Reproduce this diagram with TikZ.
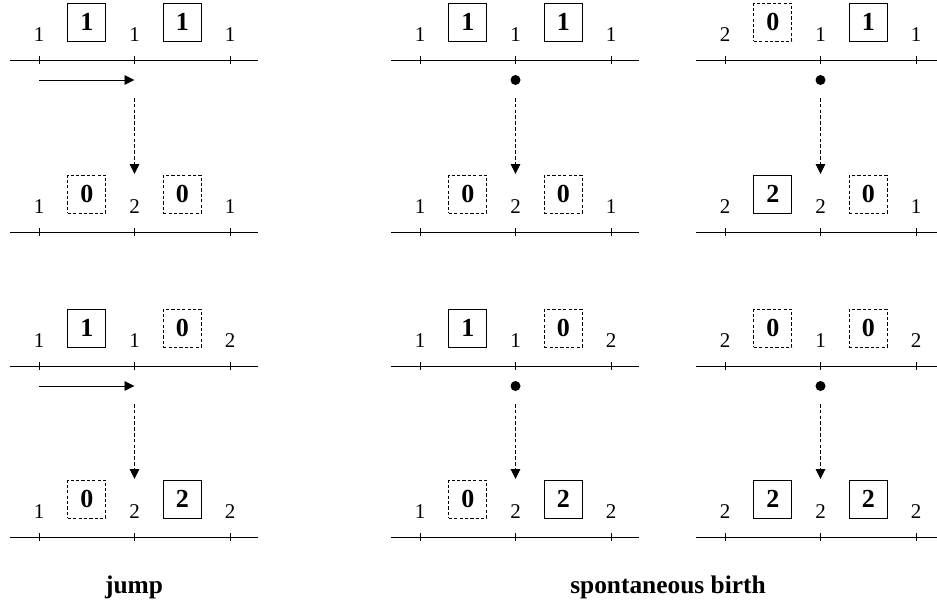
\documentclass[tikz,border=0pt]{standalone}
\usepackage{fontspec}
\setmainfont{Liberation Serif}
\usetikzlibrary{arrows.meta}

\tikzset{
  axis/.style={line width=0.45pt},
  count/.style={font=\fontsize{10.5}{12}\selectfont, inner sep=0pt},
  site/.style={draw, line width=0.45pt, minimum size=19pt, inner sep=0pt,
    font=\fontsize{13}{15}\selectfont\bfseries},
  box0/.style={site, dash pattern=on 1.6pt off 1.1pt},
  box1/.style={site},
  box2/.style={site},
  hop/.style={line width=0.45pt, -{Triangle[length=5pt,width=4.8pt]}},
  update/.style={hop, dash pattern=on 1.8pt off 1.1pt},
  birth/.style={circle, fill, inner sep=0pt, minimum size=5pt},
  caption/.style={font=\fontsize{12.7}{15}\selectfont\bfseries}
}

% one row of the lattice: name, axis y, count, box, count, box, count
\newcommand{\siterow}[7]{%
  \draw[axis] (-29,#2) -- (219,#2);
  \foreach \tx/\lab/\k in {0/#3/a,95.5/#5/b,191/#7/c}{
    \draw[axis] (\tx,#2-4) -- (\tx,#2+4);
    \node[count] (#1-\k) at (\tx,#2-25) {\lab};
  }
  \node[box#4] (#1-l) at (47.75,#2-38) {#4};
  \node[box#6] (#1-r) at (143.25,#2-38) {#6};
}

\begin{document}
\begin{tikzpicture}[x=0.5pt, y=-0.5pt]
  \useasboundingbox (0,0) rectangle (937,607);

  % jump
  \begin{scope}[shift={(39,0)}]
    \siterow{ja}{60}{1}{1}{1}{1}{1}
    \siterow{jb}{232}{1}{0}{2}{0}{1}
    \coordinate (ja-go) at (0,80);
    \coordinate (ja-to) at (95.5,80);
    \draw[hop] (ja-go) -- (ja-to);
    \coordinate (ja-down) at (95.5,98);
    \coordinate (jb-up) at (95.5,174);
    \draw[update] (ja-down) -- (jb-up);

    \siterow{jc}{366}{1}{1}{1}{0}{2}
    \siterow{jd}{537}{1}{0}{2}{2}{2}
    \coordinate (jc-go) at (0,386);
    \coordinate (jc-to) at (95.5,386);
    \draw[hop] (jc-go) -- (jc-to);
    \coordinate (jc-down) at (95.5,404);
    \coordinate (jd-up) at (95.5,479);
    \draw[update] (jc-down) -- (jd-up);
  \end{scope}

  % spontaneous birth, left column
  \begin{scope}[shift={(420,0)}]
    \siterow{sa}{60}{1}{1}{1}{1}{1}
    \siterow{sb}{232}{1}{0}{2}{0}{1}
    \node[birth] (sa-dot) at (95.5,80) {};
    \coordinate (sa-down) at (95.5,98);
    \coordinate (sb-up) at (95.5,174);
    \draw[update] (sa-down) -- (sb-up);

    \siterow{sc}{366}{1}{1}{1}{0}{2}
    \siterow{sd}{537}{1}{0}{2}{2}{2}
    \node[birth] (sc-dot) at (95.5,386) {};
    \coordinate (sc-down) at (95.5,404);
    \coordinate (sd-up) at (95.5,479);
    \draw[update] (sc-down) -- (sd-up);
  \end{scope}

  % spontaneous birth, right column
  \begin{scope}[shift={(725,0)}]
    \siterow{ta}{60}{2}{0}{1}{1}{1}
    \siterow{tb}{232}{2}{2}{2}{0}{1}
    \node[birth] (ta-dot) at (95.5,80) {};
    \coordinate (ta-down) at (95.5,98);
    \coordinate (tb-up) at (95.5,174);
    \draw[update] (ta-down) -- (tb-up);

    \siterow{tc}{366}{2}{0}{1}{0}{2}
    \siterow{td}{537}{2}{2}{2}{2}{2}
    \node[birth] (tc-dot) at (95.5,386) {};
    \coordinate (tc-down) at (95.5,404);
    \coordinate (td-up) at (95.5,479);
    \draw[update] (tc-down) -- (td-up);
  \end{scope}

  \node[caption] (jump) at (134,587) {jump};
  \node[caption] (spont) at (668,587) {spontaneous birth};
\end{tikzpicture}
\end{document}
